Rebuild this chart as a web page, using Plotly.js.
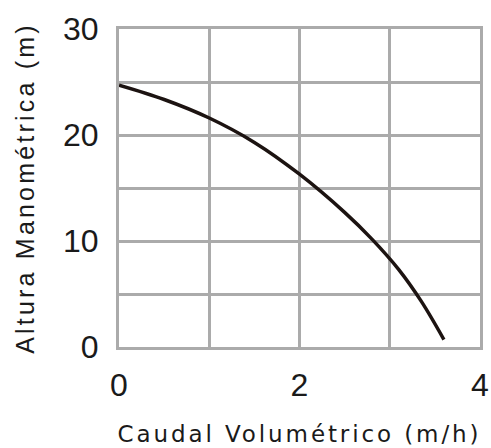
<!DOCTYPE html>
<html>
<head>
<meta charset="utf-8">
<script src="https://cdn.plot.ly/plotly-3.0.1.min.js"></script>
<style>
html,body{margin:0;padding:0;background:#fff;}
#chart{width:491px;height:448px;}
.g-xtitle text{letter-spacing:2.9px;}
.g-ytitle text{letter-spacing:3.2px;}
</style>
</head>
<body>
<div id="chart"></div>
<script>
const caudal = [0, 0.5, 1, 1.5, 2, 2.5, 2.8, 3.1, 3.35, 3.6];
const altura = [24.7, 23.35, 21.6, 19.3, 16.3, 12.7, 10.2, 7.3, 4.3, 0.7];
const xTickVals = [0, 1, 2, 3, 4];
const xTickText = ['0', '', '2', '', '4'];
const yTickVals = [0, 5, 10, 15, 20, 25, 30];
const yTickText = ['0', '', '10', '', '20', '', '30'];
const xTitle = 'Caudal Volumétrico (m/h)';
const yTitle = 'Altura Manométrica (m)';

const gridColor = '#ababab';
const tickFont = {family: 'Liberation Sans, Arial, sans-serif', size: 32, color: '#1a1a1a'};

const trace = {
  x: caudal, y: altura, type: 'scatter', mode: 'lines',
  line: {color: '#1c1311', width: 3.5, shape: 'spline', smoothing: 1},
  hoverinfo: 'skip'
};

const layout = {
  width: 491, height: 448,
  margin: {l: 119, r: 11, t: 29, b: 101},
  paper_bgcolor: '#fff', plot_bgcolor: '#fff',
  showlegend: false,
  xaxis: {
    range: [0, 4], tickvals: xTickVals, ticktext: xTickText,
    showgrid: true, gridcolor: gridColor, gridwidth: 3,
    zeroline: false, showline: true, mirror: true, linecolor: gridColor, linewidth: 3,
    ticks: '', tickfont: tickFont, ticklabelstandoff: 8,
    title: {text: xTitle, font: {family: 'DejaVu Sans, sans-serif', size: 23, color: '#1a1a1a'}, standoff: 24}
  },
  yaxis: {
    range: [0, 30], tickvals: yTickVals, ticktext: yTickText,
    showgrid: true, gridcolor: gridColor, gridwidth: 3,
    zeroline: false, showline: true, mirror: true, linecolor: gridColor, linewidth: 3,
    ticks: '', tickfont: tickFont, ticklabelstandoff: 11,
    title: {text: yTitle, font: {family: 'Liberation Sans, Arial, sans-serif', size: 25, color: '#1a1a1a'}, standoff: 22}
  }
};

Plotly.newPlot('chart', [trace], layout, {displayModeBar: false, staticPlot: true});
</script>
</body>
</html>
